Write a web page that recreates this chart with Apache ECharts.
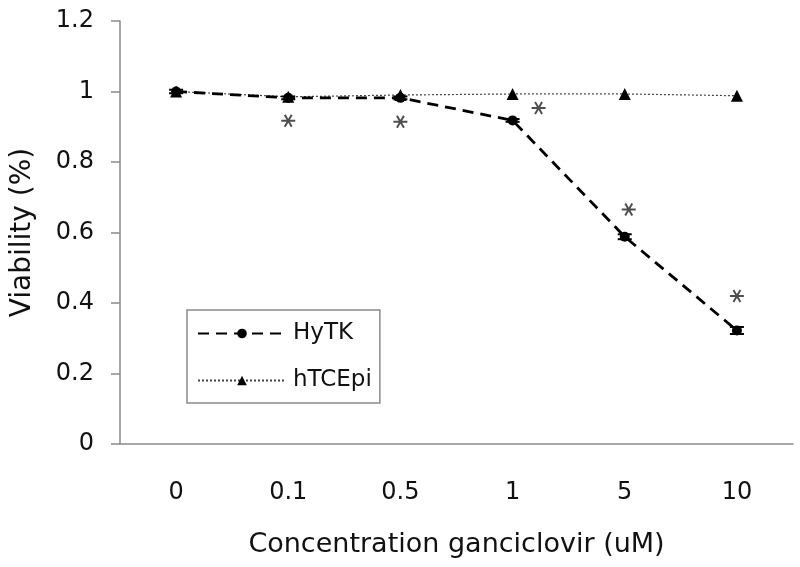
<!DOCTYPE html>
<html>
<head>
<meta charset="utf-8">
<script src="https://cdn.jsdelivr.net/npm/echarts@6/dist/echarts.min.js"></script>
<style>
html,body{margin:0;padding:0;background:#fff;}
#chart{width:800px;height:567px;}
</style>
</head>
<body>
<div id="chart"></div>
<script>
// ---- data ----
var categories = ['0', '0.1', '0.5', '1', '5', '10'];
var hytkValues = [1.0, 0.982, 0.982, 0.918, 0.588, 0.322];
var hytkErrors = [0.005, 0.004, 0.004, 0.004, 0.007, 0.010];
var htcepiValues = [1.0, 0.985, 0.99, 0.993, 0.993, 0.988];
var starValues = [null, 0.917, 0.914, 0.953, 0.665, 0.42];
var yTicks = [0, 0.2, 0.4, 0.6, 0.8, 1.0, 1.2];

// ---- styles ----
var FONT = '"DejaVu Sans", "Liberation Sans", Arial, sans-serif';
var AXIS_COLOR = '#8a8a8a';
var starOffsets = [[0,0],[0,0],[0,0],[26,0],[4,0],[0,0]];
var starPath = 'path://M0 8.6 L20 8.6 L20 11.4 L0 11.4 Z M6.212 0.64 L16.212 17.96 L13.788 19.36 L3.788 2.04 Z M16.212 2.04 L6.212 19.36 L3.788 17.96 L13.788 0.64 Z';

var chart = echarts.init(document.getElementById('chart'), null, {renderer: 'canvas'});

var starData = starValues.map(function (v, i) {
  return v == null ? null : { value: [i, v], symbolOffset: starOffsets[i] };
}).filter(function (d) { return d; });

var errData = hytkValues.map(function (v, i) {
  return [i, v - hytkErrors[i], v + hytkErrors[i]];
});

var option = {
  animation: false,
  backgroundColor: '#fff',
  grid: { left: 120, right: 7, top: 21, bottom: 123, containLabel: false },
  legend: {
    orient: 'vertical',
    left: 187,
    top: 310,
    padding: [12, 8, 11, 10],
    itemGap: 24,
    itemWidth: 88,
    itemHeight: 12,
    borderColor: '#8a8a8a',
    borderWidth: 1.5,
    backgroundColor: '#fff',
    textStyle: { fontFamily: FONT, fontSize: 23, color: '#111', padding: [0, 0, 0, 2] },
    data: ['HyTK', 'hTCEpi']
  },
  xAxis: {
    type: 'category',
    data: categories,
    boundaryGap: true,
    axisLine: { lineStyle: { color: AXIS_COLOR, width: 1.5 } },
    axisTick: { show: false },
    axisLabel: { margin: 37, fontFamily: FONT, fontSize: 24, color: '#111' },
    splitLine: { show: false },
    name: 'Concentration ganciclovir (uM)',
    nameLocation: 'middle',
    nameGap: 87,
    nameTextStyle: { fontFamily: FONT, fontSize: 27, color: '#111' }
  },
  yAxis: {
    type: 'value',
    min: yTicks[0],
    max: yTicks[yTicks.length - 1],
    interval: 0.2,
    axisLine: { show: true, lineStyle: { color: AXIS_COLOR, width: 1.5 } },
    axisTick: { show: true, length: 9, lineStyle: { color: AXIS_COLOR, width: 1.5 } },
    axisLabel: { margin: 26, fontFamily: FONT, fontSize: 24, color: '#111' },
    splitLine: { show: false },
    name: 'Viability (%)',
    nameLocation: 'middle',
    nameGap: 83,
    nameTextStyle: { fontFamily: FONT, fontSize: 28, color: '#111' }
  },
  series: [
    {
      name: 'HyTK',
      type: 'line',
      data: hytkValues,
      symbol: 'circle',
      symbolSize: 10,
      itemStyle: { color: '#000' },
      lineStyle: { color: '#000', width: 2.8, type: [11, 7] },
      z: 3
    },
    {
      name: 'hTCEpi',
      type: 'line',
      data: htcepiValues,
      symbol: 'triangle',
      symbolSize: 12,
      itemStyle: { color: '#000' },
      lineStyle: { color: '#444', width: 1.2, type: [2, 2] },
      z: 2
    },
    {
      name: 'err',
      type: 'custom',
      data: errData,
      z: 4,
      renderItem: function (params, api) {
        var x = api.value(0);
        var lo = api.coord([x, api.value(1)]);
        var hi = api.coord([x, api.value(2)]);
        var hw = 7;
        var st = { stroke: '#000', lineWidth: 2 };
        return {
          type: 'group',
          children: [
            { type: 'line', shape: { x1: lo[0], y1: lo[1], x2: hi[0], y2: hi[1] }, style: st },
            { type: 'line', shape: { x1: lo[0] - hw, y1: lo[1], x2: lo[0] + hw, y2: lo[1] }, style: st },
            { type: 'line', shape: { x1: hi[0] - hw, y1: hi[1], x2: hi[0] + hw, y2: hi[1] }, style: st }
          ]
        };
      }
    },
    {
      name: 'sig',
      type: 'scatter',
      data: starData,
      symbol: starPath,
      symbolSize: [14, 13],
      itemStyle: { color: '#222' },
      z: 5
    }
  ]
};
chart.setOption(option);
</script>
</body>
</html>
